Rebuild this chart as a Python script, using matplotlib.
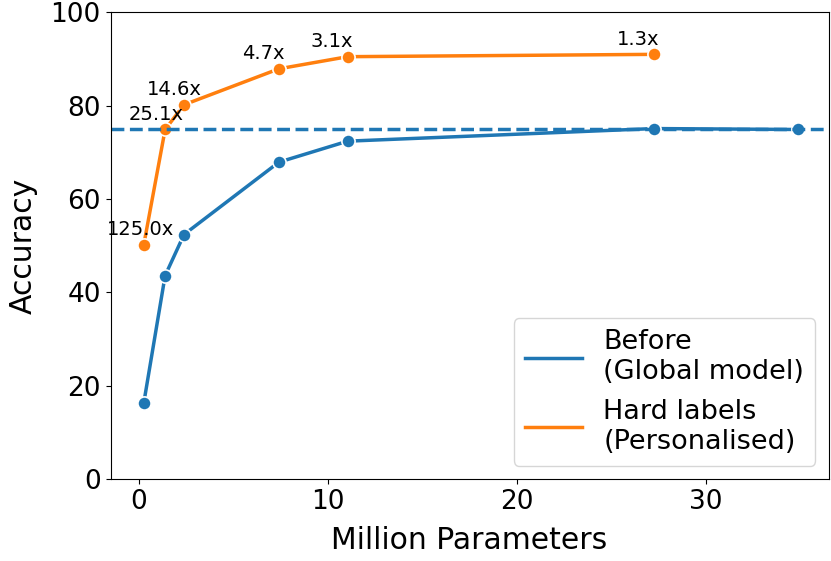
import numpy as np
import matplotlib
matplotlib.use("Agg")
import matplotlib.pyplot as plt
from matplotlib.lines import Line2D

# model sizes (million parameters)
params_before = [0.26, 1.39, 2.39, 7.41, 11.05, 27.26, 34.87]
acc_before = [16.3, 43.6, 52.4, 67.9, 72.4, 75.1, 74.9]

params_hard = [0.26, 1.39, 2.39, 7.41, 11.05, 27.26]
acc_hard = [50.2, 74.9, 80.2, 87.9, 90.5, 91.0]
speedup = ["125.0x", "25.1x", "14.6x", "4.7x", "3.1x", "1.3x"]

global_acc = 74.9

fig, ax = plt.subplots(figsize=(8.31, 5.61), dpi=100)
ax.plot(params_before, acc_before, color="tab:blue", lw=2.5, marker="o",
        ms=9.5, mec="white", mew=1.2)
ax.plot(params_hard, acc_hard, color="tab:orange", lw=2.5, marker="o",
        ms=9.5, mec="white", mew=1.2)
ax.axhline(global_acc, color="tab:blue", ls="--", lw=2.5)

for x, y, s in zip(params_hard, acc_hard, speedup):
    ax.text(x - 1.95, y + 2.0, s, fontsize=14)

ax.set_xlim(-1.5, 36.5)
ax.set_ylim(0, 100)
ax.set_xticks([0, 10, 20, 30])
ax.set_xlabel("Million Parameters", fontsize=21.5, labelpad=8)
ax.set_ylabel("Accuracy", fontsize=21.5, labelpad=9)
ax.tick_params(labelsize=19)

# legend handles without markers
handles = [Line2D([], [], color="tab:blue", lw=2.5),
           Line2D([], [], color="tab:orange", lw=2.5)]
ax.legend(handles, ["Before\n(Global model)", "Hard labels\n(Personalised)"],
          loc="lower right", fontsize=19.5, handlelength=2.1)

plt.subplots_adjust(left=0.133, right=0.997, top=0.978, bottom=0.146)
plt.savefig("out.png")
